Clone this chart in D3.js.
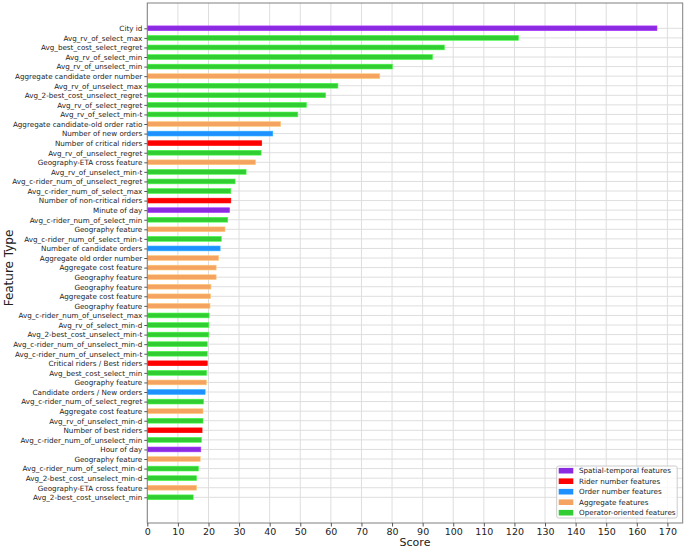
<!DOCTYPE html>
<html><head><meta charset="utf-8">
<script src="https://cdn.jsdelivr.net/npm/d3@7/dist/d3.min.js"></script>
<style>
body{margin:0;background:#fff;}
text{font-family:"DejaVu Sans",sans-serif;fill:#222;}
</style></head><body>
<svg id="c" width="685" height="548"></svg>
<script>
const labels = ["City id","Avg_rv_of_select_max","Avg_best_cost_select_regret","Avg_rv_of_select_min","Avg_rv_of_unselect_min","Aggregate candidate order number","Avg_rv_of_unselect_max","Avg_2-best_cost_unselect_regret","Avg_rv_of_select_regret","Avg_rv_of_select_min-t","Aggregate candidate-old order ratio","Number of new orders","Number of critical riders","Avg_rv_of_unselect_regret","Geography-ETA cross feature","Avg_rv_of_unselect_min-t","Avg_c-rider_num_of_unselect_regret","Avg_c-rider_num_of_select_max","Number of non-critical riders","Minute of day","Avg_c-rider_num_of_select_min","Geography feature","Avg_c-rider_num_of_select_min-t","Number of candidate orders","Aggregate old order number","Aggregate cost feature","Geography feature","Geography feature","Aggregate cost feature","Geography feature","Avg_c-rider_num_of_unselect_max","Avg_rv_of_select_min-d","Avg_2-best_cost_unselect_min-t","Avg_c-rider_num_of_unselect_min-d","Avg_c-rider_num_of_unselect_min-t","Critical riders / Best riders","Avg_best_cost_select_min","Geography feature","Candidate orders / New orders","Avg_c-rider_num_of_select_regret","Aggregate cost feature","Avg_rv_of_unselect_min-d","Number of best riders","Avg_c-rider_num_of_unselect_min","Hour of day","Geography feature","Avg_c-rider_num_of_select_min-d","Avg_2-best_cost_unselect_min-d","Geography-ETA cross feature","Avg_2-best_cost_unselect_min"];
const scores = [166.6,121.3,97.1,93.2,80.1,76.0,62.3,58.3,52.0,49.2,43.6,41.0,37.4,37.2,35.4,32.3,28.7,27.3,27.3,26.9,26.3,25.4,24.2,23.8,23.3,22.5,22.5,20.8,20.7,20.5,20.2,20.1,20.1,19.6,19.6,19.6,19.4,19.3,18.9,18.4,18.2,18.2,17.9,17.7,17.5,17.3,16.7,16.1,16.1,15.0];
const groups = ["S","O","O","O","O","A","O","O","O","O","A","N","R","O","A","O","O","O","R","S","O","A","O","N","A","A","A","A","A","A","O","O","O","O","O","R","O","A","N","O","A","O","R","O","S","A","O","O","A","O"];
const groupKeys = ["S","R","N","A","O"];
const groupNames = ["Spatial-temporal features","Rider number features","Order number features","Aggregate features","Operator-oriented features"];
const groupColors = ["#8a2be2","#ff0000","#1e90ff","#f4a460","#32cd32"];
const xTicks = d3.range(0,171,10);

const svg = d3.select("#c");
const L=147.3, R=682.7, T=3, B=523;
const x = d3.scaleLinear().domain([0,175]).range([L,R]);
const y = d3.scaleLinear().domain([-2.643,51.685]).range([T,B]);
const color = d3.scaleOrdinal().domain(groupKeys).range(groupColors);

// grid
const g = svg.append("g");
g.selectAll(".vg").data(xTicks).join("line")
  .attr("x1",d=>x(d)).attr("x2",d=>x(d)).attr("y1",T).attr("y2",B)
  .attr("stroke","#dedede").attr("stroke-width",1);
g.selectAll(".hg").data(d3.range(labels.length)).join("line")
  .attr("x1",L).attr("x2",R).attr("y1",d=>y(d)).attr("y2",d=>y(d))
  .attr("stroke","#dedede").attr("stroke-width",1);

// bars
const bh = 4.8;
svg.append("g").selectAll("rect").data(scores).join("rect")
  .attr("x",x(0)).attr("y",(d,i)=>y(i)-bh/2)
  .attr("width",d=>x(d)-x(0)).attr("height",bh)
  .attr("fill",(d,i)=>color(groups[i]))
  .attr("stroke",(d,i)=>d3.color(color(groups[i])).brighter(0.6))
  .attr("stroke-width",0.6);

// frame
svg.append("rect").attr("x",L).attr("y",T).attr("width",R-L).attr("height",B-T)
  .attr("fill","none").attr("stroke","#808080").attr("stroke-width",1);

// axes
const xa = svg.append("g").attr("transform",`translate(0,${B})`)
  .call(d3.axisBottom(x).tickValues(xTicks).tickSize(3.5).tickPadding(2));
xa.select(".domain").remove();
xa.selectAll("line").attr("stroke","#555");
xa.selectAll("text").attr("font-size","9.5px").attr("fill","#222");

const ya = svg.append("g").attr("transform",`translate(${L},0)`)
  .call(d3.axisLeft(y).tickValues(d3.range(labels.length)).tickFormat(i=>labels[i]).tickSize(3).tickPadding(2));
ya.select(".domain").remove();
ya.selectAll("line").attr("stroke","#555");
ya.selectAll("text").attr("font-size","7.2px").attr("fill","#222");

svg.append("text").attr("x",(L+R)/2).attr("y",546).attr("text-anchor","middle")
  .attr("font-size","11px").text("Score");
svg.append("text").attr("transform",`translate(13,${(T+B)/2 + 5}) rotate(-90)`)
  .attr("text-anchor","middle").attr("font-size","12px").text("Feature Type");

// legend
const lg = svg.append("g");
lg.append("rect").attr("x",556.7).attr("y",466).attr("width",120.5).attr("height",52)
  .attr("rx",2).attr("fill","#fff").attr("fill-opacity",0.8).attr("stroke","#cccccc");
groupKeys.forEach((k,i)=>{
  const cy = 470.7 + i*10.5;
  lg.append("rect").attr("x",558.7).attr("y",cy-2.8).attr("width",14.6).attr("height",5.6)
    .attr("fill",groupColors[i]);
  lg.append("text").attr("x",579).attr("y",cy).attr("dy","0.35em")
    .attr("font-size","7.2px").text(groupNames[i]);
});
</script></body></html>
